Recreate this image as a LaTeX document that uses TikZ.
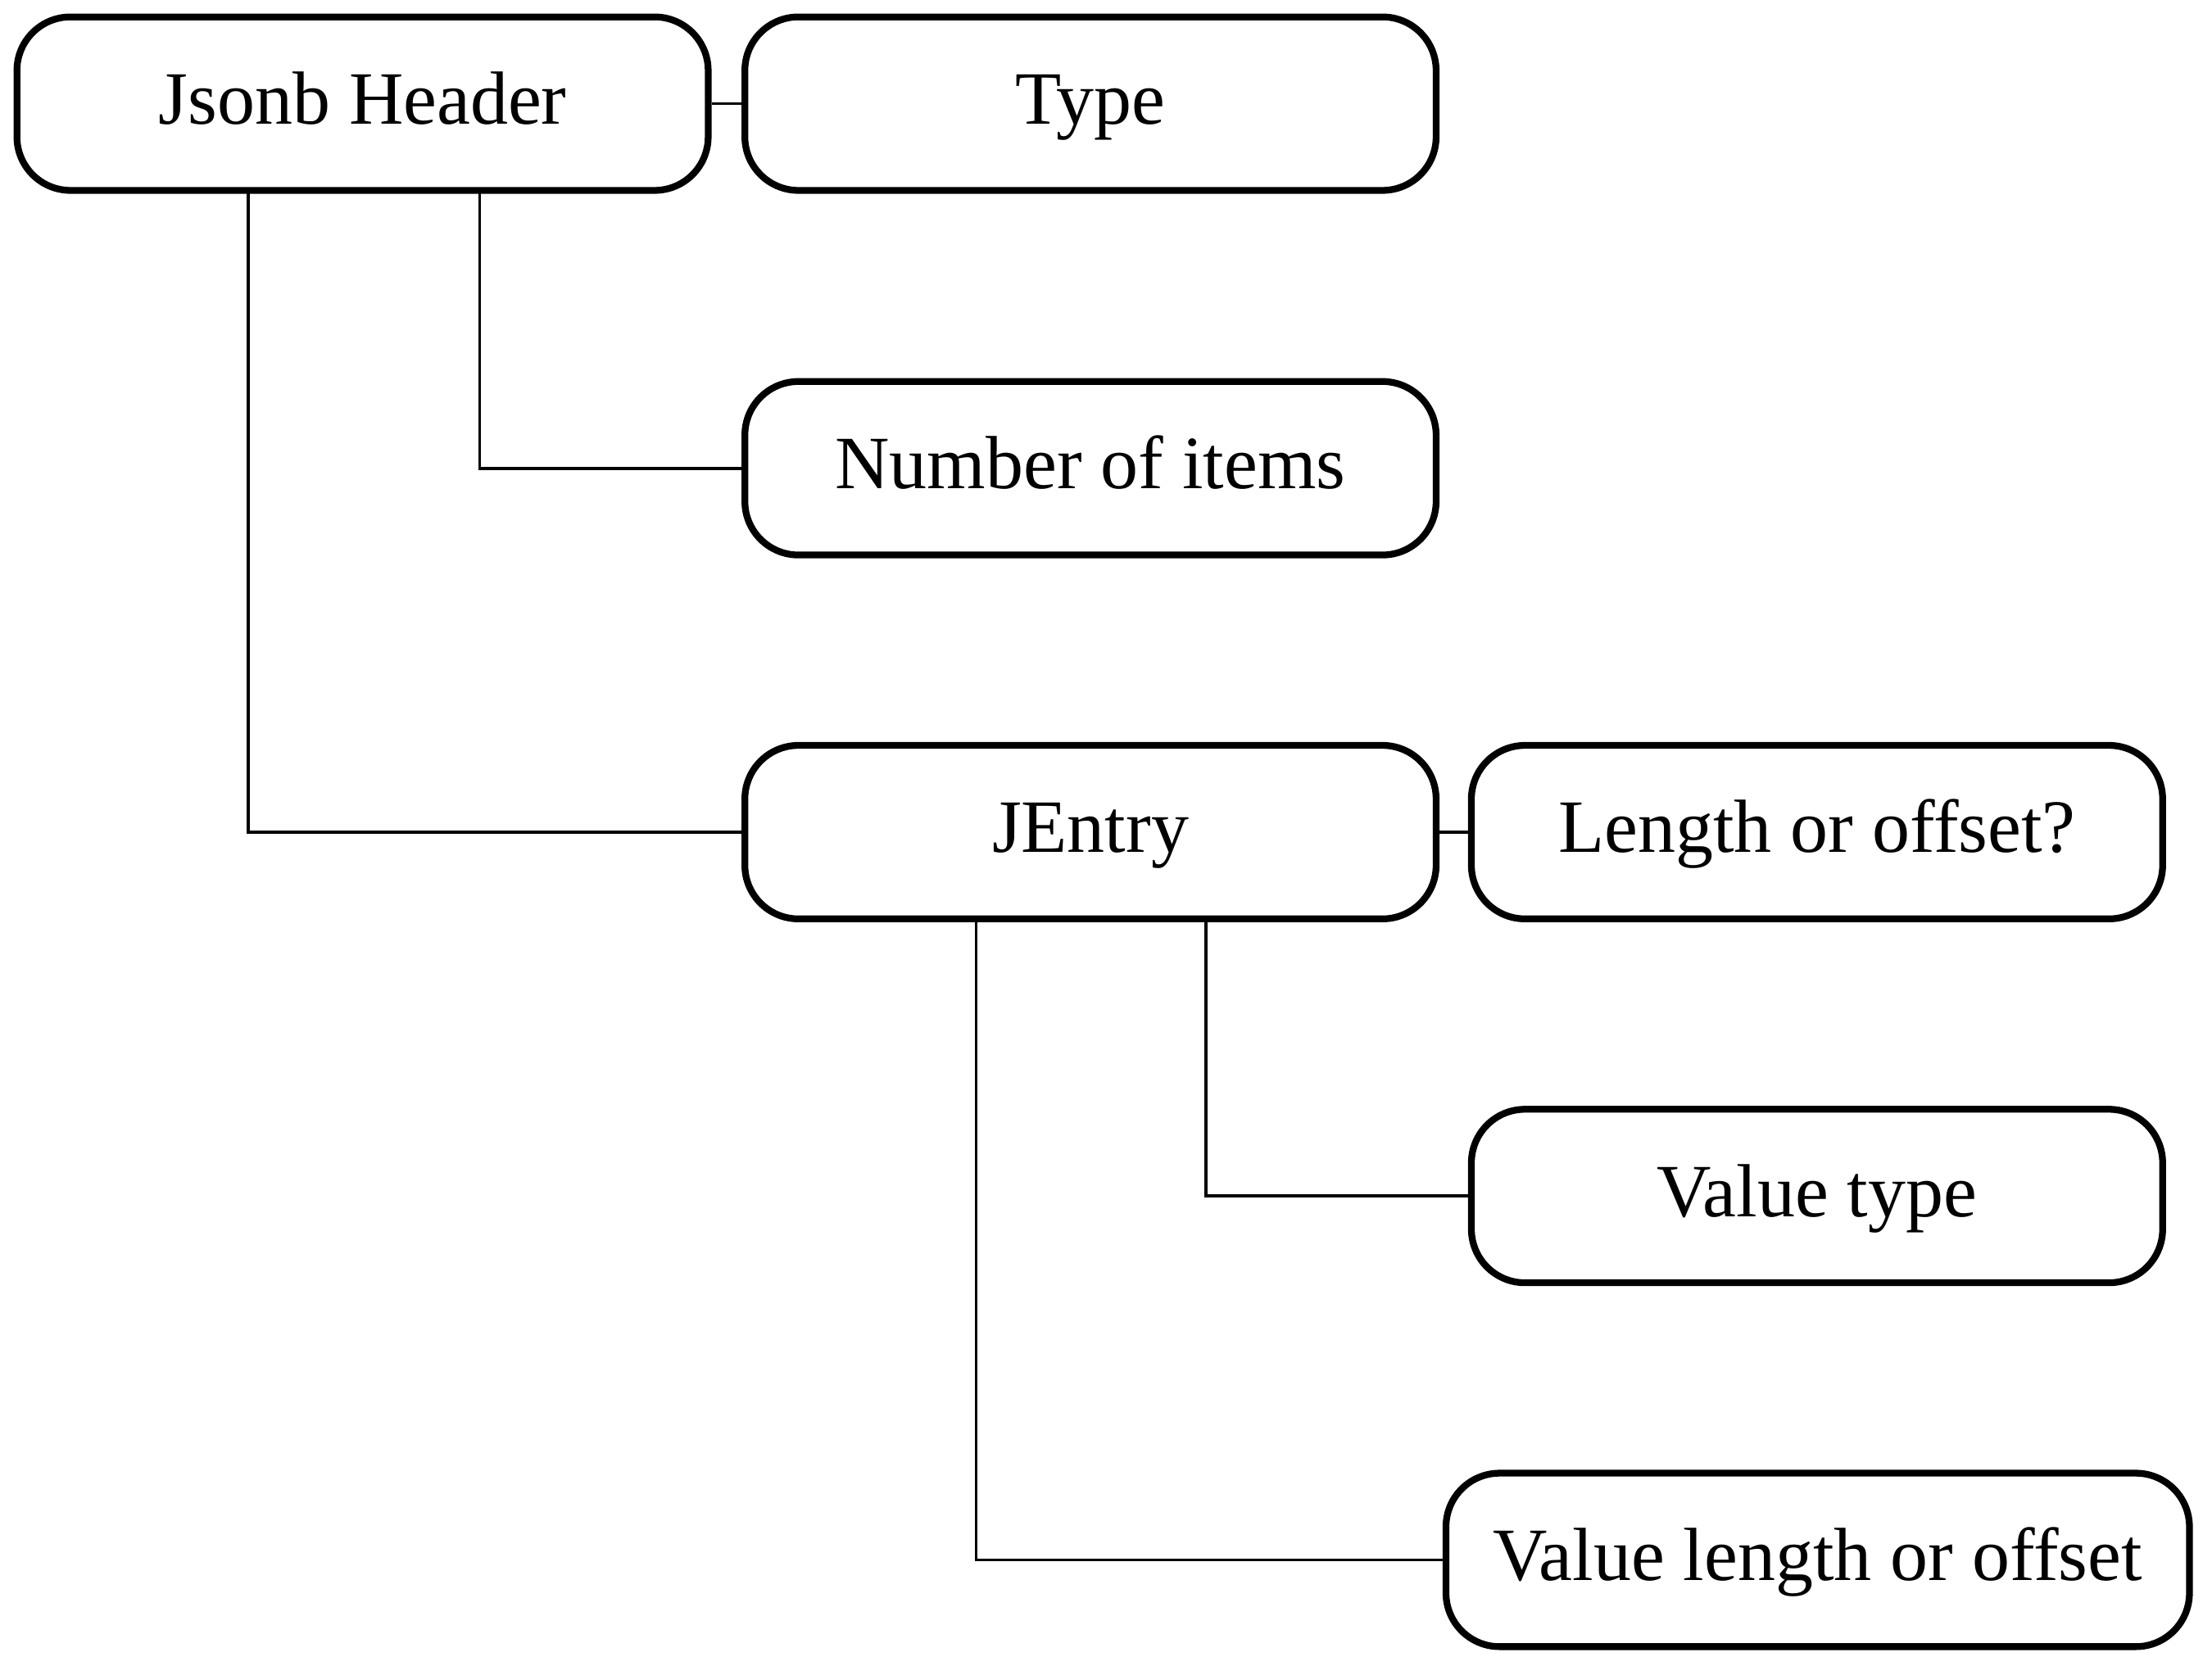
\documentclass[tikz,border=0pt]{standalone}
\usepackage{fontspec}
\setmainfont{Liberation Serif}
\begin{document}
\begin{tikzpicture}[x=0.5pt,y=-0.5pt,
  box/.style={draw=black,line width=2.4pt,rounded corners=19pt,fill=white,
    minimum width=245pt,minimum height=61.5pt,inner sep=0pt,
    text height=20pt,text depth=5.5pt,
    font=\fontsize{26.7pt}{32pt}\selectfont},
  wide/.style={box,minimum width=263.5pt},
  conn/.style={draw=black,line width=1.1pt}]
\useasboundingbox (0,0) rectangle (1568,1181);
\node[box] (hdr) at (257,73.5) {Jsonb Header};
\node[box] (typ) at (773,73.5) {Type};
\node[box] (num) at (773,332) {Number of items};
\node[box] (je) at (773,590) {JEntry};
\node[box] (lo) at (1288,590) {Length or offset?};
\node[box] (vt) at (1288,848) {Value type};
\node[wide] (vl) at (1288.5,1106) {Value length or offset};
\coordinate (h1) at (340,135);
\coordinate (h2) at (176,135);
\coordinate (j1) at (855,652);
\coordinate (j2) at (692,652);
\draw[conn] (hdr.east) -- (typ.west);
\draw[conn] (h1) |- (num.west);
\draw[conn] (h2) |- (je.west);
\draw[conn] (je.east) -- (lo.west);
\draw[conn] (j1) |- (vt.west);
\draw[conn] (j2) |- (vl.west);
\end{tikzpicture}
\end{document}
